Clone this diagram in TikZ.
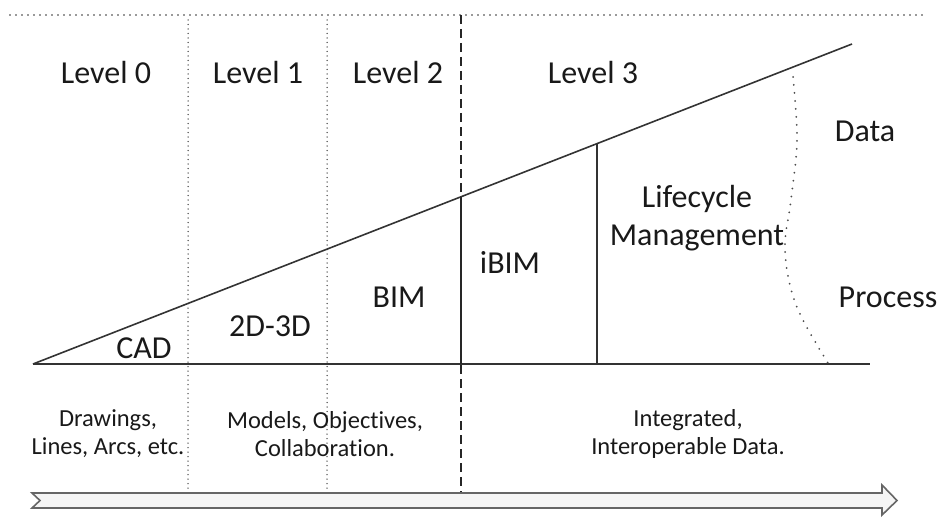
\documentclass[tikz,border=0pt]{standalone}
\usepackage{fontspec}
\setmainfont{Carlito}[Ligatures={NoCommon,NoContextual}]
\begin{document}
\begin{tikzpicture}[x=1pt,y=-1pt,
  big/.style={font=\fontsize{32}{34}\selectfont, text=black!90, inner sep=0pt, align=center},
  small/.style={font=\fontsize{24.5}{28}\selectfont, text=black!90, inner sep=0pt, align=center},
  dotline/.style={draw=black!80, line width=1.8pt, line cap=round, dash pattern=on 0pt off 6pt},
  dotline2/.style={draw=black!70, line width=1.5pt, line cap=round, dash pattern=on 0pt off 4.5pt},
  solidline/.style={draw=black!80, line width=1.3pt}]
\useasboundingbox (0,0) rectangle (941,516);
% coordinates
\coordinate (tl) at (10,15);
\coordinate (tr) at (925,15);
\coordinate (o) at (33,364);
\coordinate (slantend) at (852,44);
\coordinate (baseend) at (870,364);
% top dotted line
\draw[dotline] (tl) -- (tr);
% vertical separators
\draw[dotline2] (188,20) -- (188,490);
\draw[dotline2] (327,20) -- (327,490);
\draw[draw=black!85, line width=1.4pt, dash pattern=on 9pt off 5pt] (461,15) -- (461,492);
% baseline and slant
\draw[solidline] (o) -- (baseend);
\draw[solidline, line width=1.6pt] (o) -- (slantend);
% verticals under slant
\draw[draw=black!85, line width=2.4pt] (461,197) -- (461,364);
\draw[solidline] (597,144) -- (597,364);
% dotted curve
\draw[dotline2, line width=2pt, dash pattern=on 0pt off 8pt] plot[smooth, tension=0.6] coordinates {(793,77) (797,140) (791,200) (785,250) (796,305) (828,363)};
% bottom arrow
\draw[draw=black!60, line width=1.6pt, fill=black!4, line join=miter]
  (32,493) -- (882,493) -- (882,485) -- (897,500.5) -- (882,515) -- (882,508) -- (32,508) -- (40,500.5) -- cycle;
% labels
\node[big] (l0) at (106,73) {Level 0};
\node[big] (l1) at (258,73) {Level 1};
\node[big] (l2) at (398,73) {Level 2};
\node[big] (l3) at (593,73) {Level 3};
\node[big] (data) at (865,131) {Data};
\node[big] (process) at (888,297) {Process};
\node[big] (lm) at (697,218) {Lifecycle\\[4pt]Management};
\node[big] (ibim) at (510,262) {iBIM};
\node[big] (bim) at (399,297) {BIM};
\node[big] (d23) at (270,326) {2D-3D};
\node[big] (cad) at (144,348) {CAD};
\node[small] (draw) at (108,434) {Drawings,\\Lines, Arcs, etc.};
\node[small] (models) at (325,434) {Models, Objectives,\\Collaboration.};
\node[small] (integ) at (688,434) {Integrated,\\Interoperable Data.};
\end{tikzpicture}
\end{document}
